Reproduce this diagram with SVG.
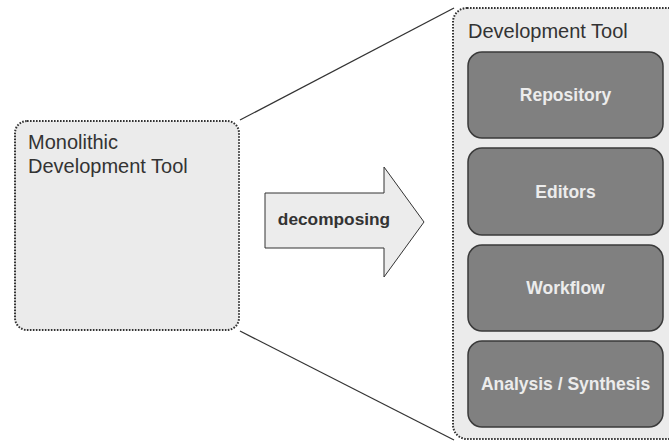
<svg xmlns="http://www.w3.org/2000/svg" width="669" height="441" viewBox="0 0 669 441">
<style>
.container{fill:#ebebeb;stroke:#333;stroke-width:2;stroke-dasharray:1.6 1.4}
.comp{fill:#808080;stroke:#3a3a3a;stroke-width:1.5}
.title{font-family:"Liberation Sans",Arial,sans-serif;font-size:20px;fill:#333}
.ctext{font-family:"Liberation Sans",Arial,sans-serif;font-size:17.5px;font-weight:bold;fill:#ececec;text-anchor:middle}
.conn{stroke:#333;stroke-width:1.3;fill:none}
</style>
<rect width="669" height="441" fill="#fff"/>
<g id="connectors">
<line class="conn" x1="240" y1="120" x2="454" y2="8"/>
<line class="conn" x1="240" y1="331" x2="454" y2="440"/>
</g>
<g id="monolithic">
<rect class="container" x="15" y="121" width="224" height="209" rx="12"/>
<text class="title" x="28" y="149">Monolithic</text>
<text class="title" x="28" y="173">Development Tool</text>
</g>
<g id="decomposing">
<polygon points="265,193 384,193 384,167 424,222 384,277 384,248 265,248" fill="#ececec" stroke="#333" stroke-width="1"/>
<text x="334" y="225" font-family="Liberation Sans,Arial,sans-serif" font-size="17.3" font-weight="bold" fill="#333" text-anchor="middle">decomposing</text>
</g>
<g id="devtool">
<rect class="container" x="453" y="8" width="230" height="431" rx="14"/>
<text class="title" x="468" y="38">Development Tool</text>
</g>
<g id="repository">
<rect class="comp" x="468" y="52" width="195" height="86" rx="14"/>
<text class="ctext" x="565.5" y="101">Repository</text>
</g>
<g id="editors">
<rect class="comp" x="468" y="148" width="195" height="87" rx="14"/>
<text class="ctext" x="565.5" y="198">Editors</text>
</g>
<g id="workflow">
<rect class="comp" x="468" y="245" width="195" height="86" rx="14"/>
<text class="ctext" x="565.5" y="294">Workflow</text>
</g>
<g id="analysis">
<rect class="comp" x="468" y="341" width="195" height="86" rx="14"/>
<text class="ctext" x="565.5" y="390">Analysis / Synthesis</text>
</g>
</svg>
